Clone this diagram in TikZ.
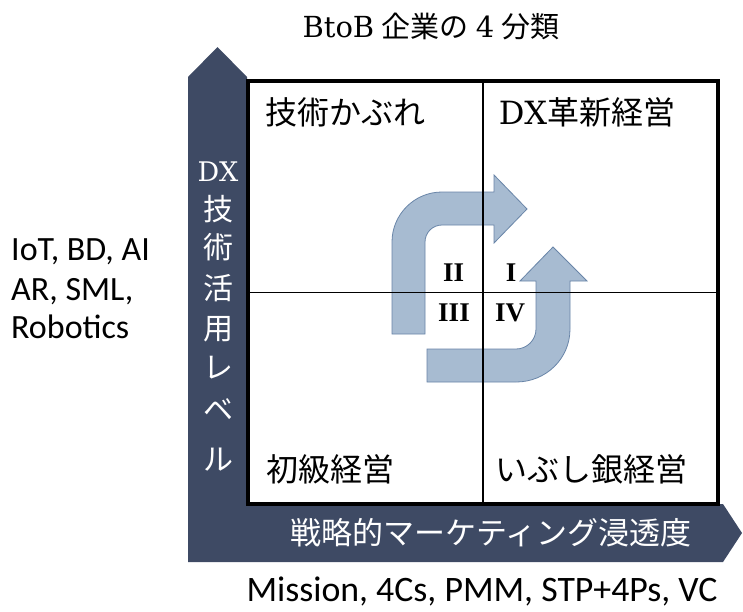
\documentclass[tikz,border=0pt]{standalone}
\usepackage{fontspec}
\setmainfont{Liberation Serif}
\newfontfamily\cjk{Noto Sans CJK JP}
\newfontfamily\calfont{Carlito}
\newfontfamily\wideserif{DejaVu Serif}
\definecolor{navy}{RGB}{62,74,100}
\definecolor{arrowfill}{RGB}{167,187,209}
\definecolor{arrowline}{RGB}{105,133,168}
\begin{document}
\begin{tikzpicture}[x=1pt,y=-1pt,
  quadlabel/.style={inner sep=0pt, font=\fontsize{32}{34}\selectfont\cjk},
  vchar/.style={inner sep=0pt, text=white, font=\fontsize{30}{32}\selectfont\cjk},
  roman/.style={inner sep=0pt, font=\fontsize{27}{29}\selectfont\bfseries},
  sidetext/.style={inner sep=0pt, anchor=base west, font=\fontsize{34}{36}\selectfont\calfont},
  cyclearrow/.style={fill=arrowfill, draw=arrowline, line width=0.8pt},
  divider/.style={line width=1.3pt, black}]
\useasboundingbox (0,0) rectangle (743,611);
% dark L-shaped axis arrow
\fill[navy] (188,562) -- (188,77) -- (217.5,47) -- (247,77) -- (247,504)
  -- (723,504) -- (742,533) -- (723,562) -- cycle;
% quadrant box
\node (box) [draw=black, fill=white, line width=4pt, outer sep=0pt, inner sep=0pt,
  minimum width=470pt, minimum height=423pt] at (483,292.5) {};
% cycle arrows
\draw[cyclearrow] (392,334) -- (392,242) .. controls (392,214.4) and (414.4,192) .. (442,192)
  -- (494,192) -- (494,175) -- (527,209) -- (494,243) -- (494,225) -- (442,225)
  .. controls (432.6,225) and (425,232.6) .. (425,242) -- (425,334) -- cycle;
\draw[cyclearrow] (427,349) -- (516,349) .. controls (527,349) and (536,340) .. (536,329)
  -- (536,281) -- (520,281) -- (553,247) -- (587,281) -- (570,281) -- (570,329)
  .. controls (570,358.8) and (545.8,382) .. (516,382) -- (427,382) -- cycle;
% dividers
\draw[divider] (box.north) -- (box.south);
\draw[divider] (box.west) -- (box.east);
% title
\node (title) at (431,27) {\fontsize{29}{31}\selectfont{\wideserif BtoB} {\cjk 企業の} {\wideserif 4} {\cjk 分類}};
% quadrant labels
\node[quadlabel] (q2) at (345,112) {技術かぶれ};
\node[quadlabel] (q1) at (587,112) {{\wideserif DX}革新経営};
\node[quadlabel] (q3) at (330,469) {初級経営};
\node[quadlabel] (q4) at (591,469) {いぶし銀経営};
% roman numerals
\node[roman] (rII) at (453.5,273) {II};
\node[roman] (rI) at (511,273) {I};
\node[roman] (rIII) at (454,313) {III};
\node[roman] (rIV) at (510,313) {IV};
% vertical axis label
\foreach \t/\yy [count=\i] in {{\wideserif\fontsize{27}{29}\selectfont DX}/172, 技/209, 術/247, 活/288, 用/329, レ/368, ベ/410, ル/460}
  \node[vchar] (v\i) at (218,\yy) {\t};
% horizontal axis label
\node[inner sep=0pt, text=white, font=\fontsize{31}{33}\selectfont\cjk] (hx) at (491,533) {戦略的マーケティング浸透度};
% side texts
\node[sidetext] (l1) at (11,260) {IoT, BD, AI};
\node[sidetext] (l2) at (11,300) {AR, SML,};
\node[sidetext] (l3) at (11,338) {Robotics};
\node[inner sep=0pt, anchor=base, font=\fontsize{35.8}{37}\selectfont\calfont] (bt) at (482,601) {Mission, 4Cs, PMM, STP+4Ps, VC};
\end{tikzpicture}
\end{document}
